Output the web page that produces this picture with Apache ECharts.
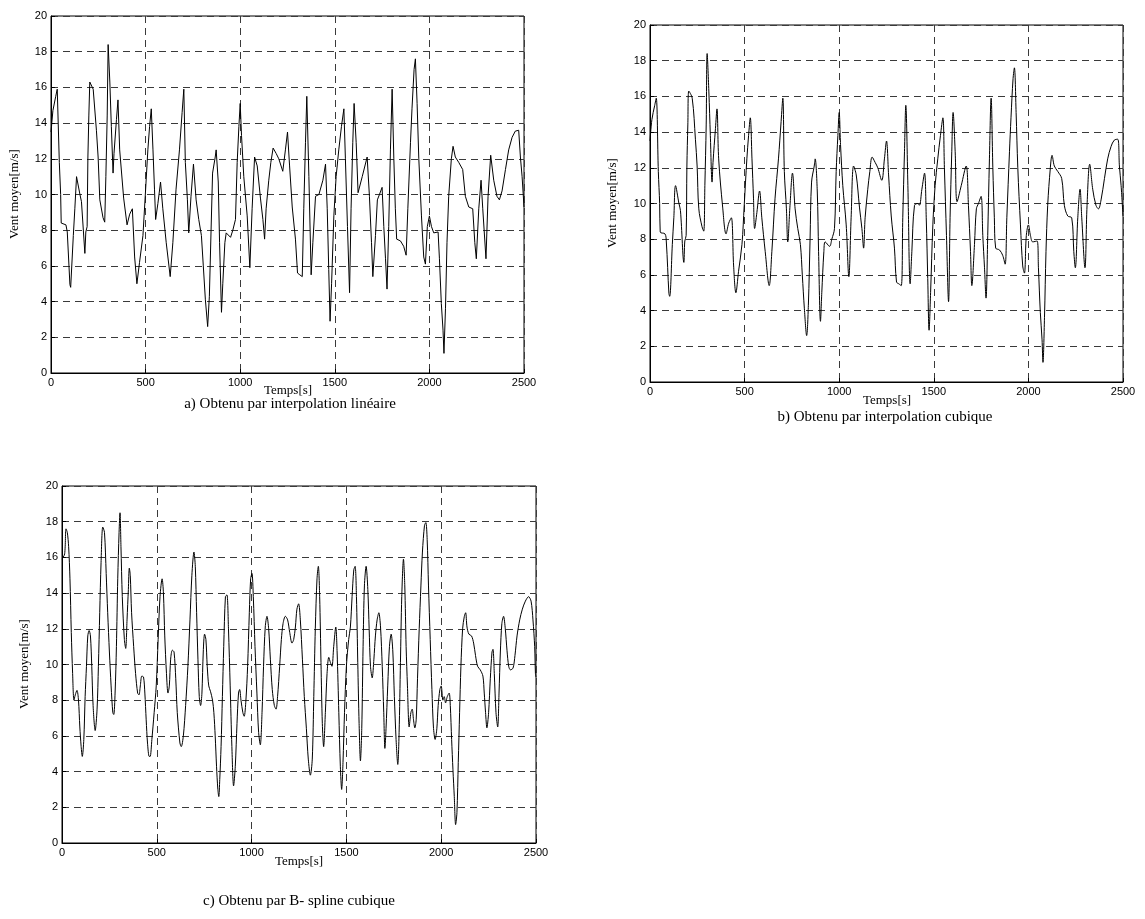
<!DOCTYPE html>
<html>
<head>
<meta charset="utf-8">
<script src="https://cdn.jsdelivr.net/npm/echarts@6/dist/echarts.min.js"></script>
<style>
html,body{margin:0;padding:0;background:#fff;}
#c{width:1145px;height:919px;}
</style>
</head>
<body>
<div id="c"></div>
<script>
// Panel a / b : sampled wind (time [s], speed [m/s]) — same knots, linear (a) and cubic (b)
const windKnots = [
[0,13.5],[10,14.7],[25,15.5],[33,15.9],[44,11.8],[51,10.0],[54,8.4],[79,8.3],[86,7.9],[100,4.95],[104,4.8],
[118,7.7],[126,9.2],[135,11.0],[153,10.0],[161,9.6],[179,6.7],[184,7.9],[191,8.2],[195,12.1],[200,14.4],
[205,16.3],[223,15.9],[240,13.6],[249,12.1],[258,9.7],[275,8.7],[284,8.45],[290,11.0],[297,14.4],[302,18.4],
[311,16.3],[319,13.8],[328,11.2],[333,12.3],[346,14.2],[354,15.3],[363,12.5],[384,9.8],[402,8.3],[416,8.9],
[430,9.2],[442,6.5],[454,5.0],[468,6.2],[486,7.7],[498,9.9],[512,12.5],[521,13.8],[530,14.8],[539,12.5],
[547,10.3],[553,8.6],[565,9.5],[579,10.7],[591,9.2],[609,7.3],[630,5.4],[644,7.3],[661,10.3],[679,12.5],
[693,14.6],[702,15.9],[710,11.8],[721,9.7],[728,7.85],[740,9.9],[753,11.7],[767,9.7],[781,8.6],[795,7.7],
[805,6.0],[816,4.1],[828,2.6],[837,4.3],[846,8.0],[854,11.2],[868,12.1],[873,12.5],[884,10.7],[891,7.3],
[901,3.4],[908,5.0],[919,7.3],[926,7.85],[949,7.6],[961,8.0],[975,8.6],[984,11.8],[993,13.8],[1000,15.1],
[1007,13.3],[1019,11.0],[1037,8.8],[1051,5.9],[1063,9.2],[1076,12.1],[1090,11.6],[1107,9.8],[1120,8.6],
[1129,7.5],[1137,9.2],[1151,10.8],[1162,11.8],[1174,12.6],[1190,12.3],[1204,12.0],[1225,11.3],[1239,12.5],
[1250,13.5],[1261,11.6],[1275,9.3],[1292,7.5],[1303,5.6],[1315,5.5],[1328,5.4],[1336,9.2],[1345,12.9],
[1352,15.5],[1363,11.0],[1375,5.5],[1384,7.3],[1398,9.9],[1416,10.0],[1424,9.9],[1437,10.8],[1451,11.7],
[1460,9.2],[1468,5.8],[1475,2.9],[1483,5.0],[1495,8.8],[1507,11.0],[1521,12.5],[1535,13.8],[1548,14.8],
[1556,12.0],[1567,8.2],[1578,4.5],[1586,9.2],[1595,12.9],[1602,15.1],[1613,12.9],[1623,10.1],[1645,11.0],
[1671,12.1],[1683,9.9],[1694,7.3],[1701,5.4],[1715,7.7],[1725,9.7],[1736,10.0],[1750,10.4],[1759,8.2],
[1768,6.4],[1776,4.7],[1785,8.2],[1794,12.5],[1803,15.9],[1812,12.0],[1820,9.2],[1827,7.5],[1847,7.4],
[1864,7.1],[1877,6.6],[1886,9.2],[1900,12.9],[1908,14.8],[1919,17.0],[1926,17.6],[1935,15.1],[1944,12.0],
[1958,8.8],[1970,6.5],[1979,6.1],[1989,8.2],[2000,8.8],[2011,8.2],[2023,7.85],[2046,7.9],[2053,6.4],
[2063,3.9],[2072,2.4],[2077,1.1],[2085,3.6],[2093,7.3],[2102,9.9],[2116,12.0],[2125,12.7],[2137,12.1],
[2155,11.8],[2176,11.4],[2190,9.9],[2208,9.3],[2229,9.2],[2240,7.3],[2248,6.4],[2261,9.2],[2273,10.8],
[2282,9.2],[2299,6.4],[2310,9.9],[2324,12.2],[2340,10.8],[2357,9.9],[2370,9.7],[2384,10.2],[2402,11.4],
[2419,12.5],[2437,13.2],[2454,13.55],[2472,13.6],[2481,12.1],[2490,11.0],[2500,9.3]
];

// Panel c : B-spline cubique
const windBspline = [
[0,15.9],[14,16.2],[21,17.6],[28,17.4],[35,16.6],[42,14.8],[49,11.8],[56,9.5],[63,8.0],[70,8.3],[79,8.55],
[87,8.0],[94,6.5],[101,5.4],[107,4.85],[115,5.8],[122,8.2],[129,9.9],[136,11.6],[143,11.9],[150,11.6],
[157,9.9],[164,7.7],[175,6.3],[185,7.5],[192,9.9],[199,12.9],[206,15.7],[215,17.7],[224,17.4],[233,15.1],
[241,12.9],[250,10.7],[259,8.8],[268,7.3],[273,7.2],[280,8.4],[287,11.0],[294,14.8],[301,17.4],[306,18.5],
[311,16.6],[318,13.8],[329,11.4],[336,10.9],[343,12.5],[350,14.2],[355,15.4],[360,15.0],[367,12.9],
[378,11.0],[388,9.5],[399,8.4],[406,8.3],[413,8.8],[421,9.35],[430,9.3],[437,8.4],[444,6.9],[451,5.6],
[460,4.85],[465,4.85],[474,5.8],[486,7.3],[497,8.8],[507,11.4],[517,13.8],[528,14.8],[535,14.0],[542,11.6],
[551,9.5],[559,8.4],[566,8.8],[573,10.3],[582,10.8],[591,10.7],[600,9.2],[608,7.3],[622,5.6],[629,5.4],
[640,6.0],[652,7.7],[664,9.9],[675,12.5],[685,15.0],[696,16.3],[703,15.5],[710,12.9],[717,10.3],[724,8.2],
[731,7.7],[738,8.4],[745,10.7],[752,11.7],[759,11.4],[766,9.9],[774,8.8],[783,8.5],[794,8.0],[801,7.3],
[808,6.0],[815,4.3],[822,3.0],[827,2.6],[832,3.55],[839,5.4],[846,8.2],[853,11.0],[862,13.8],[870,13.9],
[878,12.0],[887,8.8],[896,5.4],[905,3.2],[914,4.3],[923,6.7],[931,8.4],[937,8.6],[944,8.0],[954,7.3],
[961,7.1],[970,8.0],[979,9.9],[988,12.9],[995,14.8],[1002,15.1],[1009,13.8],[1018,11.0],[1028,8.4],
[1037,6.2],[1046,5.5],[1055,7.3],[1063,9.9],[1072,12.1],[1081,12.7],[1090,12.0],[1099,10.3],[1109,8.6],
[1120,7.7],[1129,7.5],[1137,8.2],[1148,9.9],[1157,11.4],[1166,12.3],[1178,12.7],[1190,12.5],[1201,11.8],
[1213,11.2],[1222,11.4],[1231,12.1],[1239,13.1],[1248,13.4],[1257,12.5],[1268,10.3],[1278,8.2],[1289,6.4],
[1299,4.7],[1310,3.8],[1320,4.7],[1328,8.2],[1336,12.0],[1345,14.8],[1352,15.5],[1359,13.8],[1366,10.1],
[1373,6.7],[1380,5.4],[1389,7.3],[1398,9.5],[1407,10.4],[1416,10.1],[1424,9.9],[1433,11.0],[1444,12.1],
[1451,10.7],[1460,7.3],[1468,4.3],[1475,3.0],[1482,4.5],[1490,7.3],[1500,9.9],[1512,11.4],[1521,12.1],
[1530,13.8],[1539,15.3],[1546,15.5],[1553,13.8],[1560,10.1],[1567,6.7],[1574,4.6],[1581,6.4],[1588,11.0],
[1595,14.4],[1604,15.5],[1613,14.2],[1620,12.0],[1627,9.9],[1636,9.25],[1645,10.3],[1653,11.6],[1662,12.5],
[1671,12.9],[1680,12.1],[1689,9.9],[1697,7.3],[1703,5.3],[1709,6.4],[1718,8.8],[1727,11.0],[1736,11.7],
[1745,10.7],[1753,8.2],[1762,5.8],[1771,4.4],[1778,6.2],[1785,10.1],[1792,13.8],[1801,15.9],[1808,14.4],
[1815,11.0],[1822,8.8],[1831,6.5],[1840,7.3],[1847,7.5],[1854,6.9],[1861,6.45],[1868,6.9],[1875,9.2],
[1884,12.0],[1893,14.4],[1901,16.3],[1912,17.8],[1919,17.95],[1926,17.0],[1933,14.4],[1942,11.4],[1951,8.6],
[1959,6.5],[1968,5.8],[1977,6.4],[1984,7.7],[1993,8.6],[2000,8.8],[2009,8.0],[2016,8.2],[2023,7.85],
[2032,8.2],[2042,8.4],[2048,7.7],[2055,5.8],[2062,4.1],[2069,2.6],[2076,1.03],[2083,1.7],[2090,4.5],
[2097,7.3],[2104,9.9],[2113,12.0],[2122,12.7],[2129,12.9],[2136,12.1],[2146,11.7],[2160,11.6],[2171,11.2],
[2181,10.5],[2192,9.9],[2206,9.7],[2220,9.35],[2227,8.4],[2234,7.3],[2241,6.45],[2250,7.3],[2259,9.2],
[2268,10.7],[2273,10.85],[2280,9.5],[2289,7.3],[2298,6.5],[2305,8.4],[2312,10.7],[2320,12.3],[2329,12.7],
[2338,12.0],[2347,10.8],[2356,9.9],[2365,9.7],[2379,9.8],[2389,10.5],[2400,11.6],[2414,12.5],[2428,13.1],
[2444,13.55],[2461,13.8],[2474,13.55],[2484,12.5],[2493,11.0],[2497,9.5],[2500,9.3]
];

const xLabel = 'Temps[s]';
const yLabel = 'Vent moyen[m/s]';
const captions = ['a) Obtenu par interpolation linéaire', 'b) Obtenu par interpolation cubique', 'c) Obtenu par B- spline cubique'];

const grids = [
  {left: 51, top: 16, width: 473, height: 357},
  {left: 650, top: 25, width: 473, height: 357},
  {left: 62, top: 486, width: 474, height: 357}
];

const dashed = {show: true, lineStyle: {color: '#3a3a3a', width: 1, type: [7, 5]}};
const tickFont = {fontFamily: 'Liberation Sans, Arial, sans-serif', fontSize: 11, color: '#000'};
const plain = v => String(v);

const xAxes = grids.map((g, i) => ({
  type: 'value', gridIndex: i, min: 0, max: 2500, interval: 500,
  axisLine: {show: true, lineStyle: {color: '#000', width: 1}},
  axisTick: {show: true, inside: true, length: 4, lineStyle: {color: '#000'}},
  axisLabel: Object.assign({margin: 4, formatter: plain}, tickFont),
  splitLine: dashed
}));
const yAxes = grids.map((g, i) => ({
  type: 'value', gridIndex: i, min: 0, max: 20, interval: 2,
  axisLine: {show: true, lineStyle: {color: '#000', width: 1}},
  axisTick: {show: true, inside: true, length: 4, lineStyle: {color: '#000'}},
  axisLabel: Object.assign({margin: 4, formatter: plain}, tickFont),
  splitLine: dashed
}));

const lineStyle = {color: '#000', width: 1};
const series = [
  {type: 'line', xAxisIndex: 0, yAxisIndex: 0, data: windKnots, showSymbol: false, lineStyle, smooth: false},
  {type: 'line', xAxisIndex: 1, yAxisIndex: 1, data: windKnots, showSymbol: false, lineStyle, smooth: 0.35},
  {type: 'line', xAxisIndex: 2, yAxisIndex: 2, data: windBspline, showSymbol: false, lineStyle, smooth: 0.3}
];

const serif = 'Liberation Serif, Times New Roman, serif';
function txt(x, y, s, size, rot) {
  return {type: 'text', x: x, y: y, rotation: rot || 0,
    style: {text: s, font: size + 'px ' + serif, fill: '#000', textAlign: 'center', textVerticalAlign: 'middle'}};
}
const graphics = [
  txt(288, 391, xLabel, 13), txt(15, 194, yLabel, 13, Math.PI / 2), txt(290, 404, captions[0], 15),
  txt(887, 401, xLabel, 13), txt(613, 203, yLabel, 13, Math.PI / 2), txt(885, 417, captions[1], 15),
  txt(299, 862, xLabel, 13), txt(25, 664, yLabel, 13, Math.PI / 2), txt(299, 901, captions[2], 15)
];

grids.forEach(g => { g.show = true; g.borderColor = '#000'; g.borderWidth = 1; g.backgroundColor = '#fff'; });

const chart = echarts.init(document.getElementById('c'), null, {renderer: 'canvas'});
chart.setOption({
  animation: false,
  backgroundColor: '#fff',
  grid: grids,
  xAxis: xAxes,
  yAxis: yAxes,
  series: series,
  graphic: graphics
});
</script>
</body>
</html>
